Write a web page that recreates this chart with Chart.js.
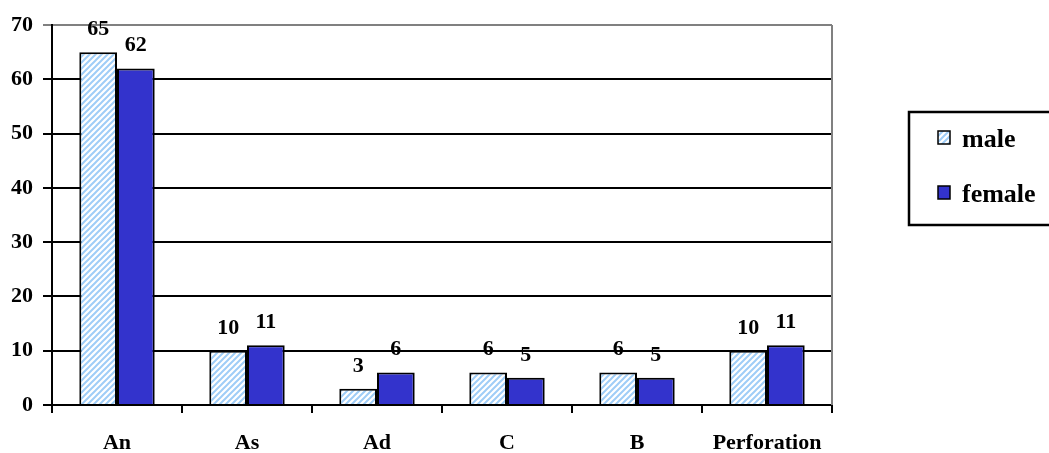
<!DOCTYPE html>
<html>
<head>
<meta charset="utf-8">
<title>male / female</title>
<script src="https://cdn.jsdelivr.net/npm/chart.js@4/dist/chart.umd.min.js"></script>
<style>
    html, body { margin: 0; padding: 0; background: #fff; }
    #wrap { position: relative; width: 1049px; height: 453px; }
</style>
</head>
<body>
<div id="wrap"><canvas id="barChart"></canvas></div>
<script>
// ---- data ----
const categories = ['An', 'As', 'Ad', 'C', 'B', 'Perforation'];
const maleValues = [65, 10, 3, 6, 6, 10];
const femaleValues = [62, 11, 6, 5, 5, 11];
const seriesNames = ['male', 'female'];
const yMax = 70;
const yStep = 10;

const FEMALE_BLUE = '#3333CC';
const HATCH_BLUE = '#9fcdf7';

function serif(size) {
    return { family: "'Liberation Serif', 'Times New Roman', serif", size: size, weight: 'bold' };
}

// diagonal hatch used for the male bars
function makeHatch() {
    const c = document.createElement('canvas');
    c.width = 6; c.height = 6;
    const g = c.getContext('2d');
    g.fillStyle = '#fff';
    g.fillRect(0, 0, 6, 6);
    g.strokeStyle = HATCH_BLUE;
    g.lineWidth = 2;
    g.beginPath();
    g.moveTo(-1, 7); g.lineTo(7, -1);
    g.moveTo(-1, 1); g.lineTo(1, -1);
    g.moveTo(5, 7); g.lineTo(7, 5);
    g.stroke();
    return g.createPattern(c, 'repeat');
}

const hatch = makeHatch();

// values above the bars
const valueLabels = {
    id: 'valueLabels',
    afterDatasetsDraw(chart) {
        const ctx = chart.ctx;
        ctx.save();
        ctx.font = "bold 22px 'Liberation Serif', serif";
        ctx.fillStyle = '#000';
        ctx.textAlign = 'center';
        ctx.textBaseline = 'alphabetic';
        chart.data.datasets.forEach((ds, i) => {
            chart.getDatasetMeta(i).data.forEach((bar, j) => {
                ctx.fillText(String(ds.data[j]), bar.x, bar.y - 17);
            });
        });
        ctx.restore();
    }
};

// gray right border + boxed legend on the right
const frameAndLegend = {
    id: 'frameAndLegend',
    afterDraw(chart) {
        const ctx = chart.ctx;
        const a = chart.chartArea;
        ctx.save();
        ctx.strokeStyle = '#808080';
        ctx.lineWidth = 2;
        ctx.beginPath();
        ctx.moveTo(a.right, a.top);
        ctx.lineTo(a.right, a.bottom);
        ctx.stroke();

        // legend box
        ctx.fillStyle = '#fff';
        ctx.fillRect(909, 112, 150, 113);
        ctx.strokeStyle = '#000';
        ctx.lineWidth = 2.5;
        ctx.strokeRect(909, 112, 150, 113);

        const fills = [hatch, FEMALE_BLUE];
        const rows = [147, 202];
        ctx.font = "bold 26px 'Liberation Serif', serif";
        ctx.textAlign = 'left';
        ctx.textBaseline = 'alphabetic';
        seriesNames.forEach((name, i) => {
            const y = rows[i];
            ctx.fillStyle = fills[i];
            ctx.fillRect(938, y - 16, 12, 13);
            ctx.strokeStyle = '#000';
            ctx.lineWidth = 1.5;
            ctx.strokeRect(938, y - 16, 12, 13);
            ctx.fillStyle = '#000';
            ctx.fillText(name, 962, y);
        });
        ctx.restore();
    }
};

new Chart(document.getElementById('barChart'), {
    type: 'bar',
    data: {
        labels: categories,
        datasets: [
            {
                label: seriesNames[0], data: maleValues,
                backgroundColor: hatch, borderColor: '#000', borderWidth: 2,
                borderSkipped: 'bottom', barPercentage: 1.0, categoryPercentage: 0.58
            },
            {
                label: seriesNames[1], data: femaleValues,
                backgroundColor: FEMALE_BLUE, borderColor: '#000', borderWidth: 2,
                borderSkipped: 'bottom', barPercentage: 1.0, categoryPercentage: 0.58
            }
        ]
    },
    options: {
        responsive: true, maintainAspectRatio: false, animation: false,
        layout: { padding: { top: 25, right: 217, left: 0, bottom: 0 } },
        plugins: {
            legend: { display: false },
            tooltip: { enabled: false }
        },
        scales: {
            x: {
                offset: true,
                grid: { offset: true, drawOnChartArea: false, drawTicks: true, tickLength: 8, color: '#000', lineWidth: 2 },
                border: { display: true, color: '#000', width: 2 },
                ticks: { color: '#000', font: serif(22), padding: 17, maxRotation: 0 },
                afterFit(scale) { scale.height = 48; }
            },
            y: {
                min: 0, max: yMax,
                grid: {
                    color: c => (c.tick && c.tick.value === yMax ? '#808080' : '#000'),
                    lineWidth: 2, tickLength: 9, drawTicks: true
                },
                border: { display: true, color: '#000', width: 2 },
                ticks: { stepSize: yStep, color: '#000', font: serif(22), padding: 10 },
                afterFit(scale) { scale.width = 52; }
            }
        }
    },
    plugins: [valueLabels, frameAndLegend]
});
</script>
</body>
</html>
